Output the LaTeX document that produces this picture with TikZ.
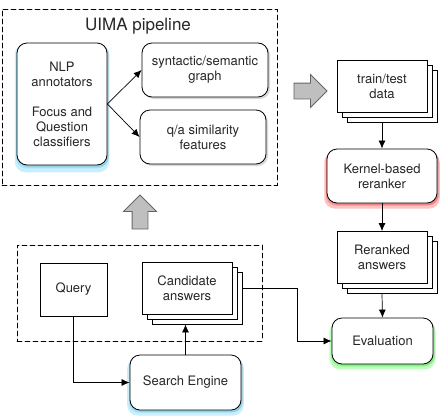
\documentclass[tikz,border=0pt]{standalone}
\usepackage{fontspec}
\setmainfont{TeX Gyre Heros}
\usetikzlibrary{arrows.meta,shapes.arrows,shadows}

\begin{document}
\begin{tikzpicture}[x=1pt,y=-1pt,line cap=round,
    font=\fontsize{13}{15}\selectfont,text=black!85,
    box/.style={draw,line width=0.8pt,fill=white,align=center,inner sep=2pt},
    rbox/.style={box,rounded corners=10pt,drop shadow={opacity=.3,shadow xshift=2pt,shadow yshift=-2pt}},
    docs/.style={box,double copy shadow={shadow xshift=5pt,shadow yshift=-5pt}},
    glow/.style={general shadow={fill=#1,opacity=.35,shadow scale=1.05,shadow yshift=-4pt},
      general shadow={fill=#1,opacity=.4,shadow scale=1.02,shadow yshift=-2pt}},
    group/.style={draw,dash pattern=on 5pt off 3pt,line width=0.8pt,inner sep=0pt},
    bigarrow/.style={single arrow,draw=black!60,fill=black!25,line width=0.8pt,inner sep=7.5pt,
      minimum width=32pt,single arrow head extend=8.5pt,single arrow head indent=0pt},
    link/.style={-{Latex[length=8pt,width=7pt]},line width=0.7pt}]
  % Tunables
  \def\dw{90pt}     % width of the stacked documents
  \def\dh{52pt}     % height of the stacked documents
  \def\bh{54pt}     % height of the rounded boxes

  \useasboundingbox (0,0) rectangle (441,418);

  % UIMA pipeline group
  \node[group,minimum width=275pt,minimum height=176pt] (pipe) at (139.5,97) {};
  \node[font=\fontsize{17}{19}\selectfont] (pipetitle) at (138,26) {UIMA pipeline};
  \node[rbox,glow=cyan!60,minimum width=90pt,minimum height=122pt] (nlp) at (62,104)
    {NLP\\annotators\\[15pt]Focus and\\Question\\classifiers};
  \node[rbox,minimum width=126pt,minimum height=\bh] (graph) at (205,70) {syntactic/semantic\\graph};
  \node[rbox,minimum width=126pt,minimum height=\bh] (feats) at (203,137) {q/a similarity\\features};
  \draw[link] (nlp.east) -- (graph.west);
  \draw[link] (nlp.east) -- (feats.west);

  % learning side
  \node[bigarrow,minimum height=33pt] (toright) at (306.5,91) {};
  \node[docs,minimum width=\dw,minimum height=\dh] (data) at (382,86) {train/test\\data};
  \node[rbox,glow=red!70,minimum width=110pt,minimum height=\bh] (rerank) at (382,176) {Kernel-based\\reranker};
  \node[docs,minimum width=\dw,minimum height=\dh] (ranked) at (382,257.5) {Reranked\\answers};
  \node[rbox,glow=green!70,minimum width=101pt,minimum height=46pt] (eval) at (382.5,341) {Evaluation};
  \draw[link] ([yshift=-10pt]data.south) -- (rerank.north);
  \draw[link] (rerank.south) -- (ranked.north);
  \draw[link] ([yshift=-10pt]ranked.south) -- (eval.north);

  % retrieval group
  \node[bigarrow,minimum height=34pt,shape border rotate=90] (toup) at (140,216) {};
  \node[group,minimum width=245pt,minimum height=96pt] (retr) at (139.5,293) {};
  \node[box,minimum width=67pt,minimum height=53pt] (query) at (73.5,289.5) {Query};
  \node[docs,minimum width=\dw,minimum height=\dh] (cands) at (187,288) {Candidate\\answers};
  \node[rbox,glow=cyan!60,minimum width=111pt,minimum height=55pt] (engine) at (185.5,382.5) {Search Engine};
  \coordinate (candbot) at ([yshift=-10pt]cands.south);
  \draw[link] (query.south) |- (engine.west);
  \draw[link] (engine.north) -- (engine.north |- candbot);
  \draw[link] ([xshift=10pt]cands.east) -- ++(55,0) |- (eval.west);
\end{tikzpicture}
\end{document}
